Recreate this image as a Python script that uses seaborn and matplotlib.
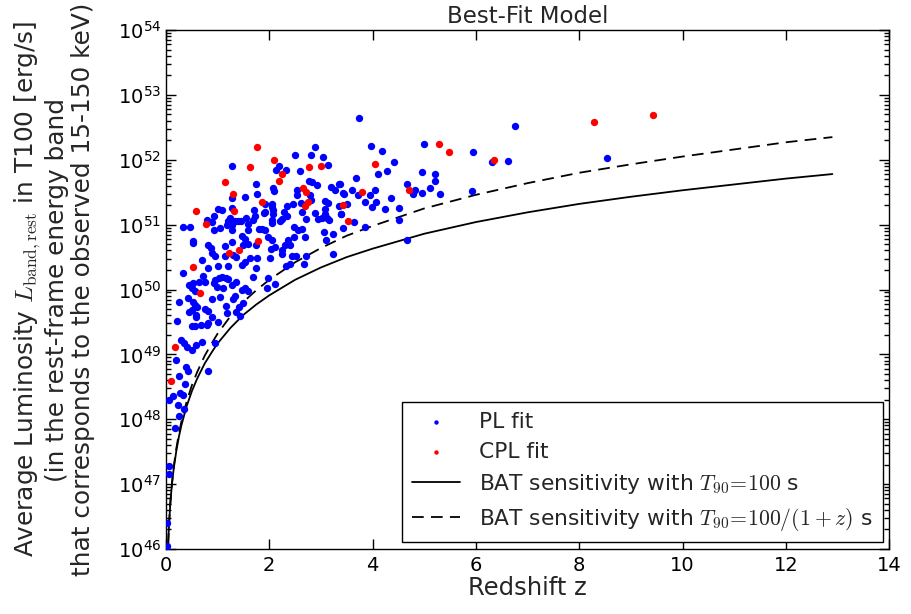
import numpy as np
import pandas as pd
import matplotlib
matplotlib.use("Agg")
import matplotlib.pyplot as plt
import seaborn as sns

# ---------------- data ----------------
# PL fit (blue) : redshift z and log10 of average luminosity [erg/s]
pl_z = [3.74, 6.75, 8.53, 3.96, 4.18, 4.41, 5.00, 5.95, 6.31, 6.62,
        4.28, 4.11, 4.96, 5.21, 5.21, 4.66, 4.82, 4.78, 4.95, 5.12,
        5.31, 5.93, 4.04, 3.95, 4.06, 4.35, 3.98, 4.24, 4.51, 4.51,
        4.66, 3.68, 3.37, 3.43, 3.60, 3.85, 3.50, 3.39, 3.63, 3.43,
        3.85,
        2.89, 2.50, 2.81, 3.03, 2.18, 2.32, 2.13, 3.14, 2.59, 2.07,
        2.09, 2.76, 2.82, 2.93, 2.54, 2.53, 2.78, 2.81, 2.61, 2.45,
        2.34, 2.06, 2.06, 1.92, 3.19, 3.27, 3.35, 3.44, 3.71, 3.07,
        3.13, 3.34, 2.88, 3.08, 3.07, 3.02, 3.11, 3.16, 2.95, 2.71,
        2.63, 3.38, 2.29, 2.34, 2.25, 2.21, 2.08, 2.08, 2.06, 2.05,
        1.92, 1.92, 1.98, 2.05, 2.47, 2.56, 2.63, 2.69, 2.48, 2.37,
        2.30, 2.40, 2.24, 2.11, 2.03, 3.05, 3.24, 3.10, 2.43, 2.51,
        2.25, 3.23, 2.71, 2.68, 2.41, 2.32, 2.01, 1.98, 1.95, 2.12,
        1.28, 1.27, 1.53, 1.74, 1.76, 1.00, 1.08, 1.27, 1.71, 1.90,
        0.92, 0.80, 0.89, 1.23, 1.21, 1.55, 1.72, 1.69, 1.18, 1.27,
        1.34, 1.39, 1.45, 0.33, 0.46, 0.92, 1.05, 1.27, 1.59, 1.58,
        1.80, 1.86, 1.47, 1.52, 0.52, 0.52, 1.28, 1.59, 0.81, 0.87,
        1.14, 1.49, 1.74, 0.89, 0.94, 1.15, 1.30, 1.35, 1.76, 0.69,
        1.63,
        0.32, 0.82, 1.01, 1.21, 1.48, 1.53, 1.68, 1.74, 0.72, 0.95,
        1.03, 1.08, 1.16, 1.21, 0.45, 0.53, 0.63, 0.76, 0.92, 0.98,
        1.11, 1.27, 1.35, 1.47, 1.59, 1.53, 0.50, 0.56, 0.43, 0.53,
        0.56, 0.61, 0.25, 0.89, 1.05, 1.16, 1.30, 1.34, 1.41, 0.45,
        0.50, 0.59, 0.76, 0.81, 1.18, 1.36, 1.43, 0.90, 0.58, 0.67,
        0.79, 0.82, 0.21, 0.50, 0.56, 0.30, 0.34, 0.40, 0.59, 0.70,
        0.95, 0.19, 0.38, 0.42, 0.82, 0.25, 0.37, 1.49, 1.00, 0.50,
        0.14, 0.05, 0.27, 0.32, 0.23, 0.35, 0.25, 0.18, 0.05, 0.06,
        0.02, 0.01]
pl_logL = [52.64, 52.52, 52.03, 52.21, 52.13, 51.97, 52.24, 52.12, 51.97, 51.98,
           51.82, 51.78, 51.81, 51.78, 51.68, 51.63, 51.54, 51.47, 51.49, 51.56,
           51.47, 51.52, 51.54, 51.45, 51.35, 51.41, 51.27, 51.24, 51.25, 51.07,
           50.76, 51.72, 51.63, 51.49, 51.54, 51.35, 51.32, 51.17, 51.04, 50.95,
           50.96,
           52.20, 52.07, 52.08, 52.05, 51.90, 51.85, 51.84, 51.92, 51.83, 51.57,
           51.52, 51.67, 51.65, 51.61, 51.53, 51.45, 51.45, 51.38, 51.33, 51.32,
           51.28, 51.32, 51.27, 51.32, 51.58, 51.53, 51.63, 51.48, 51.45, 51.37,
           51.34, 51.29, 51.18, 51.24, 51.17, 51.11, 51.11, 51.07, 51.08, 51.08,
           51.19, 51.17, 51.19, 51.13, 51.08, 51.05, 51.23, 51.16, 51.07, 51.02,
           51.20, 50.92, 50.81, 50.76, 50.97, 50.92, 50.94, 50.81, 50.81, 50.76,
           50.69, 50.68, 50.61, 50.66, 50.63, 50.89, 50.85, 50.77, 50.52, 50.52,
           50.55, 50.55, 50.51, 50.39, 50.39, 50.36, 50.48, 50.17, 50.02, 50.08,
           51.90, 51.41, 51.43, 51.62, 51.48, 51.24, 51.23, 51.25, 51.22, 51.18,
           51.14, 51.07, 51.04, 51.11, 51.06, 51.11, 51.14, 51.07, 51.00, 50.99,
           51.05, 51.05, 51.05, 50.97, 50.96, 50.92, 50.95, 50.92, 51.01, 50.92,
           50.93, 50.93, 50.82, 50.78, 50.75, 50.71, 50.73, 50.70, 50.69, 50.64,
           50.67, 50.68, 50.68, 50.56, 50.52, 50.51, 50.53, 50.50, 50.48, 50.45,
           50.48,
           50.25, 50.33, 50.36, 50.36, 50.38, 50.42, 50.20, 50.33, 50.21, 50.14,
           50.17, 50.20, 50.18, 50.16, 50.07, 50.10, 50.12, 50.12, 50.10, 50.04,
           50.02, 50.07, 50.12, 50.00, 49.97, 50.02, 50.03, 49.98, 49.87, 49.81,
           49.76, 49.73, 49.81, 49.85, 49.88, 49.75, 49.85, 49.90, 49.73, 49.66,
           49.68, 49.61, 49.70, 49.67, 49.63, 49.65, 49.59, 49.57, 49.57, 49.45,
           49.45, 49.48, 49.52, 49.44, 49.43, 49.22, 49.17, 49.12, 49.14, 49.19,
           49.18, 48.92, 48.81, 48.74, 48.75, 48.67, 48.54, 49.79, 49.50, 49.07,
           48.36, 48.29, 48.40, 48.37, 48.22, 48.16, 48.05, 47.87, 47.28, 47.16,
           46.40, 46.04]

# CPL fit (red)
cpl_z = [8.29, 9.42, 4.05, 5.29, 5.47, 6.35, 4.71, 3.80, 3.42, 3.53,
         2.09, 2.25, 2.76, 3.00, 2.19, 2.66, 2.72, 2.75, 2.69, 1.86,
         1.76, 1.62, 1.14, 1.30, 0.58, 1.31, 0.77, 1.78, 1.41, 1.22,
         0.52, 0.66, 0.17, 0.09]
cpl_logL = [52.59, 52.69, 51.94, 52.24, 52.12, 52.00, 51.54, 51.51, 51.31, 51.06,
            52.00, 51.78, 51.89, 51.90, 51.67, 51.57, 51.50, 51.35, 51.29, 51.35,
            52.19, 51.89, 51.66, 51.47, 51.21, 51.21, 51.01, 50.75, 50.61, 50.57,
            50.34, 49.94, 49.12, 48.59]

# BAT sensitivity curves
curve_z = [0.03, 0.04, 0.05, 0.06, 0.07, 0.08, 0.10, 0.12, 0.15, 0.20,
           0.25, 0.30, 0.40, 0.50, 0.60, 0.75, 0.90, 1.00, 1.25, 1.50,
           1.75, 2.00, 2.50, 3.00, 3.50, 4.00, 5.00, 6.00, 7.00, 8.00,
           9.00, 10.0, 11.0, 12.0, 12.9]
sens100_logL = [45.76, 46.02, 46.22, 46.38, 46.52, 46.65, 46.86, 47.03, 47.24, 47.51,
                47.73, 47.91, 48.20, 48.43, 48.62, 48.86, 49.05, 49.17, 49.41, 49.61,
                49.77, 49.91, 50.15, 50.34, 50.50, 50.63, 50.86, 51.04, 51.19, 51.32,
                51.43, 51.53, 51.62, 51.71, 51.78]
sens100z_logL = [45.77, 46.03, 46.23, 46.39, 46.53, 46.67, 46.88, 47.05, 47.27, 47.55,
                 47.78, 47.97, 48.27, 48.52, 48.72, 48.98, 49.19, 49.32, 49.59, 49.81,
                 49.99, 50.15, 50.42, 50.64, 50.83, 50.98, 51.25, 51.46, 51.64, 51.80,
                 51.93, 52.05, 52.16, 52.27, 52.35]

x_ticks = [0, 2, 4, 6, 8, 10, 12, 14]

# ---------------- figure ----------------
sns.set_style("ticks")
plt.rcParams["font.family"] = ["DejaVu Sans"]
plt.rcParams["mathtext.fontset"] = "cm"

fig, ax = plt.subplots(figsize=(9.12, 6.14), dpi=100)
fig.subplots_adjust(left=0.182, right=0.975, top=0.951, bottom=0.106)

pl = pd.DataFrame({"z": pl_z, "L": 10.0 ** np.array(pl_logL)})
cpl = pd.DataFrame({"z": cpl_z, "L": 10.0 ** np.array(cpl_logL)})
sens = pd.DataFrame({"z": curve_z,
                     "L100": 10.0 ** np.array(sens100_logL),
                     "L100z": 10.0 ** np.array(sens100z_logL)})

lab_solid = r"BAT sensitivity with $T_{90}\!=\!100$ s"
lab_dash = r"BAT sensitivity with $T_{90}\!=\!100/(1+z)$ s"

sns.lineplot(data=sens, x="z", y="L100", ax=ax, color="black", lw=1.3,
             sort=False, estimator=None, zorder=2, label=lab_solid)
sns.lineplot(data=sens, x="z", y="L100z", ax=ax, color="black", lw=1.3,
             sort=False, estimator=None, zorder=2, linestyle=(0, (6.5, 4)),
             label=lab_dash)
sns.scatterplot(data=pl, x="z", y="L", ax=ax, color="#0000ff", s=28,
                linewidth=0, zorder=3, label="PL fit")
sns.scatterplot(data=cpl, x="z", y="L", ax=ax, color="#ff0000", s=28,
                linewidth=0, zorder=3, label="CPL fit")

ax.set_yscale("log")
ax.set_xlim(0, 14)
ax.set_ylim(1e46, 1e54)
ax.set_xticks(x_ticks)
ax.set_yticks([10.0 ** k for k in range(46, 55)])
ax.minorticks_on()
ax.xaxis.set_minor_locator(matplotlib.ticker.NullLocator())
ax.yaxis.set_minor_locator(matplotlib.ticker.LogLocator(base=10, subs=np.arange(2, 10), numticks=100))

ax.tick_params(which="both", direction="in", top=True, right=True, labelsize=14,
               colors="black", width=1)
ax.tick_params(which="major", length=7)
ax.tick_params(which="minor", length=3.5)
ax.tick_params(axis="x", pad=5)
for sp in ax.spines.values():
    sp.set_visible(True)
    sp.set_color("black")
    sp.set_linewidth(1.0)

ax.set_title("Best-Fit Model", fontsize=16.5, pad=5)
ax.set_xlabel("Redshift z", fontsize=17.5, labelpad=1)
ax.set_ylabel("Average Luminosity $L_{\\mathrm{band,rest}}$ in T100 [erg/s]\n"
              "(in the rest-frame energy band\n"
              "that corresponds to the observed 15-150 keV)",
              fontsize=17.8, linespacing=1.12)
ax.yaxis.set_label_coords(-0.098, 0.5)

handles, labels = ax.get_legend_handles_labels()
order = ["PL fit", "CPL fit", lab_solid, lab_dash]
hmap = dict(zip(labels, handles))
leg = ax.legend([hmap[k] for k in order], order, loc="lower right",
                fontsize=15.7, frameon=True, fancybox=False, framealpha=1,
                edgecolor="black", borderaxespad=0.3, handlelength=2.2,
                handletextpad=0.9, labelspacing=0.45, markerscale=0.6,
                scatterpoints=1, borderpad=0.45)
leg.get_frame().set_linewidth(1.0)

fig.savefig("out.png", dpi=100, facecolor="white")
